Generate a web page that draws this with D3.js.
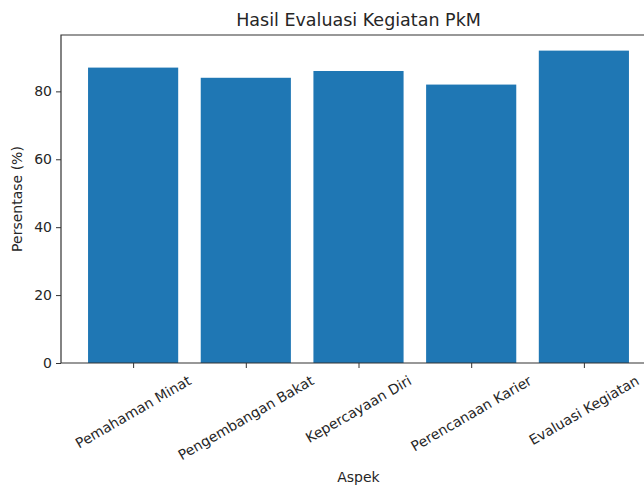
<!DOCTYPE html>
<html>
<head>
<script src="https://d3js.org/d3.v7.min.js"></script>
<style>
  body { margin: 0; background: #fff; }
  text { font-family: "DejaVu Sans", sans-serif; fill: #262626; }
</style>
</head>
<body>
<script>
var categories = ["Pemahaman Minat", "Pengembangan Bakat", "Kepercayaan Diri", "Perencanaan Karier", "Evaluasi Kegiatan"];
var values = [87, 84, 86, 82, 92];
var yTicks = [0, 20, 40, 60, 80];
var title = "Hasil Evaluasi Kegiatan PkM";
var xTitle = "Aspek";
var yTitle = "Persentase (%)";

var W = 644, H = 486;
var m = { left: 61, top: 35, right: 656, bottom: 363 };

var svg = d3.select("body").append("svg")
    .attr("width", W).attr("height", H);

// matplotlib style: bars 0.8 wide, 5% margins
var n = categories.length;
var x = d3.scaleLinear()
    .domain([-0.4 - 0.05 * (n - 0.2), n - 0.6 + 0.05 * (n - 0.2)])
    .range([m.left, m.right]);
var yMax = d3.max(values) * 1.05;
var y = d3.scaleLinear().domain([0, yMax]).range([m.bottom, m.top]);

svg.selectAll("rect.bar")
    .data(values)
    .enter().append("rect")
    .attr("class", "bar")
    .attr("x", function (d, i) { return x(i - 0.4); })
    .attr("width", function (d, i) { return x(i + 0.4) - x(i - 0.4); })
    .attr("y", function (d) { return y(d); })
    .attr("height", function (d) { return y(0) - y(d); })
    .attr("fill", "#1f77b4");

// y axis
var yAxis = svg.append("g")
    .attr("transform", "translate(" + m.left + ",0)")
    .call(d3.axisLeft(y).tickValues(yTicks).tickSize(5).tickPadding(4));
yAxis.select(".domain").remove();
yAxis.selectAll("line").attr("stroke", "#333");
yAxis.selectAll("text").style("font-size", "14px").style("font-family", "DejaVu Sans").attr("fill", "#262626");

// x ticks
var xAxis = svg.append("g")
    .attr("transform", "translate(0," + m.bottom + ")")
    .call(d3.axisBottom(x).tickValues(d3.range(n)).tickSize(5).tickFormat(""));
xAxis.select(".domain").remove();
xAxis.selectAll("line").attr("stroke", "#333");

// rotated category labels, bbox centred under tick
var angle = 30 * Math.PI / 180;
categories.forEach(function (c, i) {
  var t = svg.append("text")
      .attr("text-anchor", "middle")
      .attr("dominant-baseline", "central")
      .style("font-size", "14px")
      .text(c);
  var w = t.node().getComputedTextLength();
  var h = 12;
  var bh = w * Math.sin(angle) + h * Math.cos(angle);
  var cy = m.bottom + 11 + bh / 2;
  t.attr("transform", "translate(" + x(i) + "," + cy + ") rotate(-30)");
});

// spines
svg.append("path")
    .attr("d", "M" + m.left + "," + m.top + "H" + m.right + "V" + m.bottom + "H" + m.left + "Z")
    .attr("fill", "none").attr("stroke", "#333").attr("stroke-width", 1.2);

// titles
svg.append("text")
    .attr("x", (m.left + m.right) / 2).attr("y", 26)
    .attr("text-anchor", "middle")
    .style("font-size", "17.5px")
    .text(title);

svg.append("text")
    .attr("x", (m.left + m.right) / 2).attr("y", 482)
    .attr("text-anchor", "middle")
    .style("font-size", "14px")
    .text(xTitle);

svg.append("text")
    .attr("transform", "translate(22," + (m.top + m.bottom) / 2 + ") rotate(-90)")
    .attr("text-anchor", "middle")
    .style("font-size", "14px")
    .text(yTitle);
</script>
</body>
</html>
